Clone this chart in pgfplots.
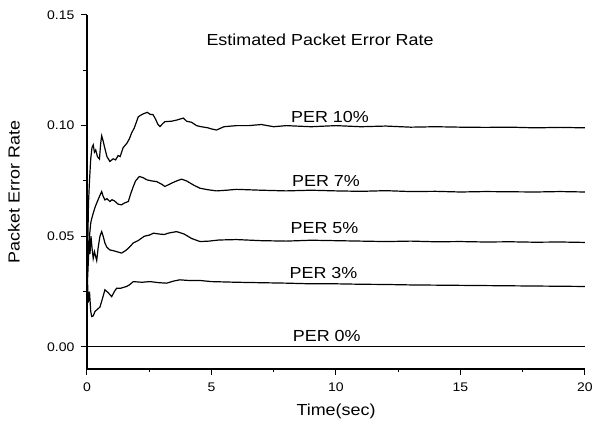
\documentclass[border=0pt]{standalone}
\usepackage{fontspec}
\setmainfont[FakeStretch=1.12]{Liberation Sans}
\usepackage{pgfplots}
\pgfplotsset{compat=1.18}
\tikzset{perline/.style={black, line width=1.2pt, mark=none}}
\begin{document}
\begin{tikzpicture}
\begin{axis}[
    width=498pt, height=354pt, scale only axis,
    xmin=0, xmax=20, ymin=-0.01, ymax=0.15,
    axis lines*=left,
    xtick={0,5,...,20},
    ytick={0,0.05,0.1,0.15},
    minor tick num=1,
    tick align=outside,
    major tick length=6pt, minor tick length=3.5pt,
    axis line style={line width=1.3pt},
    every tick/.style={black, line width=1pt},
    scaled y ticks=false,
    yticklabel style={/pgf/number format/fixed, /pgf/number format/fixed zerofill, /pgf/number format/precision=2, xshift=-3pt},
    xticklabel style={yshift=-4pt},
    /pgf/number format/assume math mode=true,
    tick label style={font=\fontsize{12.5}{13}\selectfont},
    xlabel={Time(sec)},
    ylabel={Packet Error Rate},
    every axis x label/.style={at={(axis description cs:0.5,-0.1186)}, anchor=center, font=\fontsize{16}{17}\selectfont},
    every axis y label/.style={at={(axis description cs:-0.1466,0.5)}, rotate=90, anchor=center, font=\fontsize{16}{17}\selectfont},
]
% PER 10%
\addplot[perline] coordinates {(0.02,0.04)(0.06,0.065)(0.1,0.075)(0.15,0.085)(0.2,0.09)(0.25,0.0913)(0.3,0.088)(0.35,0.089)(0.42,0.086)(0.5,0.0849)(0.55,0.092)(0.59,0.0954)(0.65,0.093)(0.7,0.0905)(0.8,0.086)(0.92,0.0838)(1.05,0.085)(1.15,0.0845)(1.25,0.0865)(1.33,0.086)(1.45,0.09)(1.6,0.092)(1.7,0.094)(1.79,0.0966)(1.9,0.099)(2.06,0.104)(2.2,0.105)(2.3,0.1055)(2.42,0.106)(2.55,0.105)(2.65,0.105)(2.75,0.103)(2.85,0.1005)(2.93,0.0996)(3.05,0.101)(3.13,0.1018)(3.4,0.102)(3.6,0.1025)(3.87,0.1034)(4.0,0.102)(4.2,0.1015)(4.4,0.1)(4.54,0.0996)(4.86,0.099)(5.0,0.0985)(5.2,0.098)(5.5,0.0995)(6,0.1)(6.5,0.1)(7,0.1005)(7.5,0.0995)(8,0.1)(9,0.0995)(10,0.1)(11,0.0995)(12,0.0998)(13,0.0993)(14,0.0995)(15,0.0993)(16,0.0992)(17,0.0993)(18,0.099)(19,0.0992)(20,0.099)};
% PER 7%
\addplot[perline] coordinates {(0.02,0.03)(0.06,0.04)(0.1,0.05)(0.15,0.056)(0.19,0.058)(0.25,0.0604)(0.32,0.063)(0.39,0.065)(0.5,0.068)(0.59,0.0702)(0.65,0.068)(0.72,0.0664)(0.8,0.067)(0.92,0.0657)(1.0,0.0665)(1.1,0.066)(1.25,0.0645)(1.39,0.0642)(1.5,0.065)(1.66,0.0657)(1.75,0.069)(1.86,0.0725)(1.95,0.075)(2.1,0.077)(2.25,0.0765)(2.4,0.0755)(2.6,0.075)(2.8,0.0747)(3.0,0.0735)(3.13,0.0725)(3.4,0.074)(3.6,0.075)(3.8,0.0758)(4.0,0.075)(4.3,0.073)(4.54,0.0717)(4.87,0.071)(5.2,0.0705)(5.6,0.0708)(6,0.0712)(7,0.0708)(8,0.0705)(9,0.0708)(10,0.0705)(11,0.0703)(12,0.0706)(13,0.0702)(14,0.0703)(15,0.07)(16,0.0702)(17,0.0701)(18,0.07)(19,0.0702)(20,0.07)};
% PER 5%
\addplot[perline] coordinates {(0.02,0.05)(0.05,0.04)(0.08,0.048)(0.12,0.042)(0.16,0.05)(0.2,0.045)(0.25,0.04)(0.3,0.043)(0.39,0.039)(0.45,0.045)(0.52,0.05)(0.59,0.0521)(0.65,0.05)(0.72,0.0469)(0.8,0.045)(0.92,0.0438)(1.05,0.0435)(1.2,0.043)(1.39,0.0424)(1.55,0.0435)(1.7,0.045)(1.86,0.047)(2.05,0.048)(2.3,0.05)(2.5,0.0505)(2.67,0.0514)(2.9,0.051)(3.1,0.0508)(3.3,0.0515)(3.6,0.0521)(3.9,0.051)(4.2,0.049)(4.54,0.0476)(4.9,0.0478)(5.3,0.0483)(6,0.0485)(7,0.048)(8,0.0478)(9,0.0482)(10,0.048)(11,0.0478)(12,0.0476)(13,0.0478)(14,0.0475)(15,0.0476)(16,0.0474)(17,0.0475)(18,0.0473)(19,0.0474)(20,0.0472)};
% PER 3%
\addplot[perline] coordinates {(0.02,0.03)(0.05,0.02)(0.1,0.025)(0.15,0.016)(0.19,0.0137)(0.25,0.014)(0.32,0.016)(0.39,0.0167)(0.52,0.018)(0.6,0.021)(0.72,0.0258)(0.85,0.0245)(0.99,0.0227)(1.1,0.025)(1.19,0.0265)(1.35,0.0265)(1.59,0.0273)(1.7,0.028)(1.86,0.0295)(2.2,0.0292)(2.53,0.0295)(2.9,0.029)(3.2,0.0288)(3.5,0.0298)(3.73,0.0303)(4.1,0.03)(4.54,0.03)(5,0.0295)(6,0.0292)(7,0.029)(8,0.0288)(9,0.0285)(10,0.0285)(11,0.0283)(12,0.0282)(13,0.028)(14,0.0279)(15,0.0278)(16,0.0277)(17,0.0276)(18,0.0275)(19,0.0274)(20,0.0273)};
% PER 0%
\addplot[perline] coordinates {(0,0)(20,0)};
\node[font=\fontsize{16}{17}\selectfont] at (axis cs:9.36,0.1388) {Estimated Packet Error Rate};
\node[font=\fontsize{16}{17}\selectfont] at (axis cs:9.76,0.1037) {PER 10\%};
\node[font=\fontsize{16}{17}\selectfont] at (axis cs:9.6,0.075) {PER 7\%};
\node[font=\fontsize{16}{17}\selectfont] at (axis cs:9.54,0.0536) {PER 5\%};
\node[font=\fontsize{16}{17}\selectfont] at (axis cs:9.5,0.0335) {PER 3\%};
\node[font=\fontsize{16}{17}\selectfont] at (axis cs:9.63,0.005) {PER 0\%};
\end{axis}
\pgfresetboundingbox
\path[use as bounding box] ([shift={(-87pt,-59pt)}]current axis.south west) rectangle ([shift={(10pt,15pt)}]current axis.north east);
\end{tikzpicture}
\end{document}
